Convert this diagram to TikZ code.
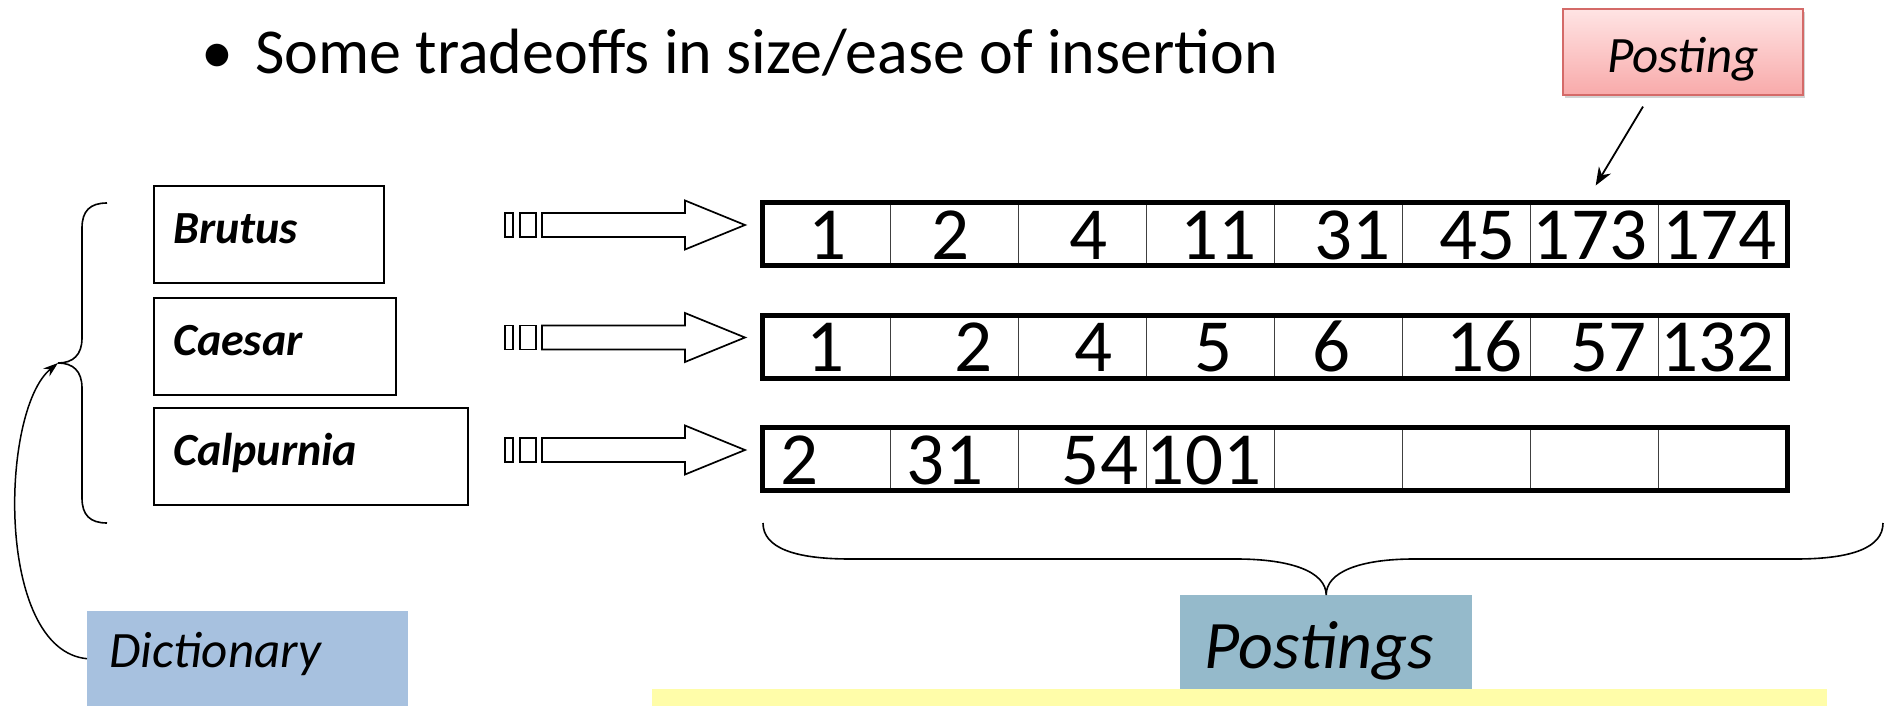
\documentclass[tikz,border=0pt]{standalone}
\usepackage{fontspec}
\setmainfont{Carlito}
\usepackage{tikz}
\usetikzlibrary{arrows.meta,shadows,calc}
\definecolor{dictblue}{HTML}{A7C1DF}
\definecolor{postblue}{HTML}{95BACB}
\definecolor{noteyellow}{HTML}{FFFDA9}
\definecolor{pinktop}{HTML}{FFE4E4}
\definecolor{pinkbot}{HTML}{F8AAAA}
\definecolor{pinkline}{HTML}{D46A68}
\tikzstyle{dict box}=[draw,line width=1.5pt,anchor=north west,minimum height=97pt,inner sep=0pt]
\tikzstyle{dict word}=[font=\fontsize{46}{54}\selectfont\bfseries\itshape,anchor=base west,inner sep=0pt,xshift=20pt,yshift=-58pt]
\tikzstyle{cell}=[draw=black!75,line width=1.3pt,anchor=north west,minimum width=128pt,minimum height=62pt,inner sep=0pt]
\tikzstyle{row frame}=[draw,line width=5pt]
\tikzstyle{num}=[font=\fontsize{75}{90}\selectfont,anchor=base,inner sep=0pt]
\tikzstyle{block arrow}=[draw,line width=1.7pt,fill=white]
\tikzstyle{stub}=[draw,line width=1.2pt]
\tikzstyle{brace}=[draw,line width=1.6pt]
\tikzstyle{pointer}=[draw,line width=1.5pt,-{Stealth[length=15pt,width=10pt]}]
\tikzstyle{big pointer}=[pointer,line width=1.8pt,-{Stealth[length=18pt,width=14pt]}]
\tikzstyle{tag}=[inner sep=0pt]

\begin{document}
\begin{tikzpicture}[x=1pt,y=-1pt]
\useasboundingbox (0,0) rectangle (1885,706);
% heading
\node[tag,font=\fontsize{64}{75}\selectfont,anchor=base west] (head) at (201.5,74)
  {\makebox[53.5pt][l]{•}Some tradeoffs in size/ease of insertion};
% dictionary entries
\foreach \name/\top/\w/\word in {brutus/185/230/Brutus, caesar/297/242/Caesar, calpurnia/407/314/Calpurnia}
    \node[dict box,minimum width=\w pt,label={[dict word]north west:\word}] (\name) at (153,\top) {};
% postings lists
\foreach \r/\top in {1/202.5,2/315,3/427.5}{
    \foreach \c in {1,...,8}
        \node[cell] (r\r-\c) at ({762+128*(\c-1)},\top) {};
    \draw[row frame] (r\r-1.north west) rectangle (r\r-8.south east);
    \coordinate (tip\r) at ($(r\r-1.north west)+(-17,22.5)$);
    \draw[block arrow] (tip\r) -- ++(-60,-24.5) -- ++(0,12.5) -- ++(-143,0) -- ++(0,24) -- ++(143,0) -- ++(0,12.5) -- cycle;
    \draw[stub] ($(tip\r)+(-225,-12)$) rectangle ++(16,24);
    \draw[stub] ($(tip\r)+(-240,-12)$) rectangle ++(8,24);
}
\foreach \x/\n [count=\c] in {827/1,950/2,1088/4,1218/11,1352/31,1477/45,1590/173,1719/174}
    \node[num] (v1-\c) at (\x,259) {\n};
\foreach \x/\n [count=\c] in {825/1,973/2,1093/4,1213/5,1331/6,1484/16,1608/57,1717/132}
    \node[num] (v2-\c) at (\x,371.5) {\n};
\foreach \x/\n [count=\c] in {799/2,945/31,1100/54,1204/101}
    \node[num] (v3-\c) at (\x,484) {\n};
% posting callout
\node[tag,draw=pinkline,line width=1.2pt,top color=pinktop,bottom color=pinkbot,
      drop shadow={shadow xshift=2pt,shadow yshift=-3pt,opacity=0.35},
      minimum width=240pt,minimum height=86pt,
      label={[tag,font=\fontsize{51}{60}\selectfont\itshape,anchor=base,yshift=-64pt]north:Posting}] (posting) at (1683,52) {};
\draw[big pointer] ($(posting.south)+(-40,11)$) -- ($(r1-7.north)+(1,-17)$);
% labels at the bottom
\fill[noteyellow] (652,689) rectangle (1827,706);
\node[tag,fill=postblue,minimum width=292pt,minimum height=94pt,anchor=north west,
      label={[tag,font=\fontsize{68}{80}\selectfont\itshape,anchor=base,xshift=-7pt,yshift=-73pt]north:Postings}] (postings) at (1180,595) {};
\node[tag,fill=dictblue,minimum width=321pt,minimum height=95pt,anchor=north west,
      label={[tag,font=\fontsize{51}{60}\selectfont\itshape,anchor=base west,xshift=22pt,yshift=-56pt]north west:Dictionary}] (dict) at (87,611) {};
% braces
\coordinate (bracetip) at (58,363);
\draw[brace] (107,203) .. controls (90,203) and (82,211) .. (82,228) -- (82,338)
    .. controls (82,355) and (73,363) .. (bracetip) .. controls (73,363) and (82,371) .. (82,388)
    -- (82,498) .. controls (82,515) and (90,523) .. (107,523);
\draw[brace] (763,523) .. controls (763,548) and (795,559) .. (850,559) -- (1236,559)
    .. controls (1292,559) and (1326,572) .. (postings.north) .. controls (1326,572) and (1360,559) .. (1414,559)
    -- (1796,559) .. controls (1851,559) and (1883,548) .. (1883,523);
\draw[pointer] (dict.west) .. controls (-5,650) and (0,410) .. (bracetip);
\end{tikzpicture}
\end{document}
